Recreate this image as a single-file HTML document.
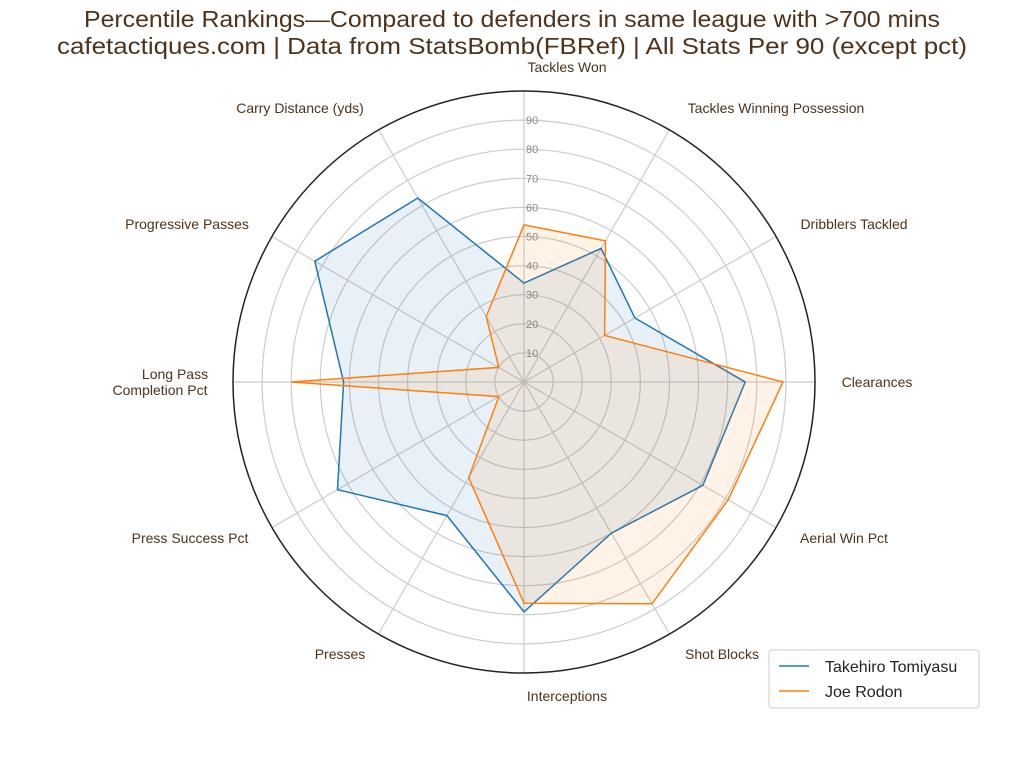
<!DOCTYPE html>
<html><head><meta charset="utf-8"><style>
html,body{margin:0;padding:0;background:#fff;}
svg{display:block;font-family:"Liberation Sans",sans-serif;}
</style></head><body>
<svg id="s" width="1024" height="768" viewBox="0 0 1024 768" xmlns="http://www.w3.org/2000/svg">
<rect width="1024" height="768" fill="#fff"/>
<text x="512" y="27" font-size="23" fill="#4f3219" text-anchor="middle" textLength="856" lengthAdjust="spacingAndGlyphs">Percentile Rankings—Compared to defenders in same league with &gt;700 mins</text>
<text x="512" y="54" font-size="23" fill="#4f3219" text-anchor="middle" textLength="910" lengthAdjust="spacingAndGlyphs">cafetactiques.com | Data from StatsBomb(FBRef) | All Stats Per 90 (except pct)</text>
<g id="g"></g>
<g font-size="14" fill="#4f3219">
<text x="567" y="72" text-anchor="middle">Tackles Won</text>
<text x="776" y="113" text-anchor="middle">Tackles Winning Possession</text>
<text x="854" y="229" text-anchor="middle">Dribblers Tackled</text>
<text x="877" y="387" text-anchor="middle">Clearances</text>
<text x="844" y="543" text-anchor="middle">Aerial Win Pct</text>
<text x="722" y="659" text-anchor="middle">Shot Blocks</text>
<text x="567" y="701" text-anchor="middle">Interceptions</text>
<text x="340" y="659" text-anchor="middle">Presses</text>
<text x="190" y="543" text-anchor="middle">Press Success Pct</text>
<text x="175" y="379" text-anchor="middle">Long Pass</text>
<text x="160" y="395" text-anchor="middle">Completion Pct</text>
<text x="187" y="229" text-anchor="middle">Progressive Passes</text>
<text x="300" y="113" text-anchor="middle">Carry Distance (yds)</text>
</g>
<g>
<rect x="769" y="650" width="210" height="58" fill="#fff" stroke="#ccc" rx="3"/>
<line x1="779" y1="666" x2="809" y2="666" stroke="#1f77b4" stroke-width="1.5"/>
<line x1="779" y1="691" x2="809" y2="691" stroke="#ff7f0e" stroke-width="1.5"/>
<text x="825" y="672" font-size="16" fill="#222">Takehiro Tomiyasu</text>
<text x="825" y="697" font-size="16" fill="#222">Joe Rodon</text>
</g>
</svg>
<script>
var cx=524,cy=382,R=291,g=document.getElementById('g'),h='';
for(var i=1;i<=9;i++)h+='<circle cx="'+cx+'" cy="'+cy+'" r="'+(R*i/10)+'" fill="none" stroke="#ccc" stroke-width="1.2"/>';
for(var k=0;k<12;k++){var a=k*Math.PI/6;h+='<line x1="'+cx+'" y1="'+cy+'" x2="'+(cx+R*Math.sin(a))+'" y2="'+(cy-R*Math.cos(a))+'" stroke="#ccc" stroke-width="1.2"/>';}
for(var i=1;i<=9;i++)h+='<text x="526" y="'+(cy-R*i/10+4)+'" font-size="11" fill="#888">'+(i*10)+'</text>';
function poly(v,c){var p=v.map(function(r,k){var a=k*Math.PI/6;return (cx+R*r/100*Math.sin(a)).toFixed(1)+','+(cy-R*r/100*Math.cos(a)).toFixed(1);}).join(' ');
return '<polygon points="'+p+'" fill="'+c+'" fill-opacity="0.1" stroke="'+c+'" stroke-width="1.5"/>';}
h+=poly([34,53,44,76,71,60,79,53,74,62,83,73],'#1f77b4');
h+=poly([54,56,32,89,81,88,76,38,10,80,10,26],'#ff7f0e');
h+='<circle cx="'+cx+'" cy="'+cy+'" r="'+R+'" fill="none" stroke="#222" stroke-width="1.5"/>';
g.innerHTML=h;
</script>
</body></html>
